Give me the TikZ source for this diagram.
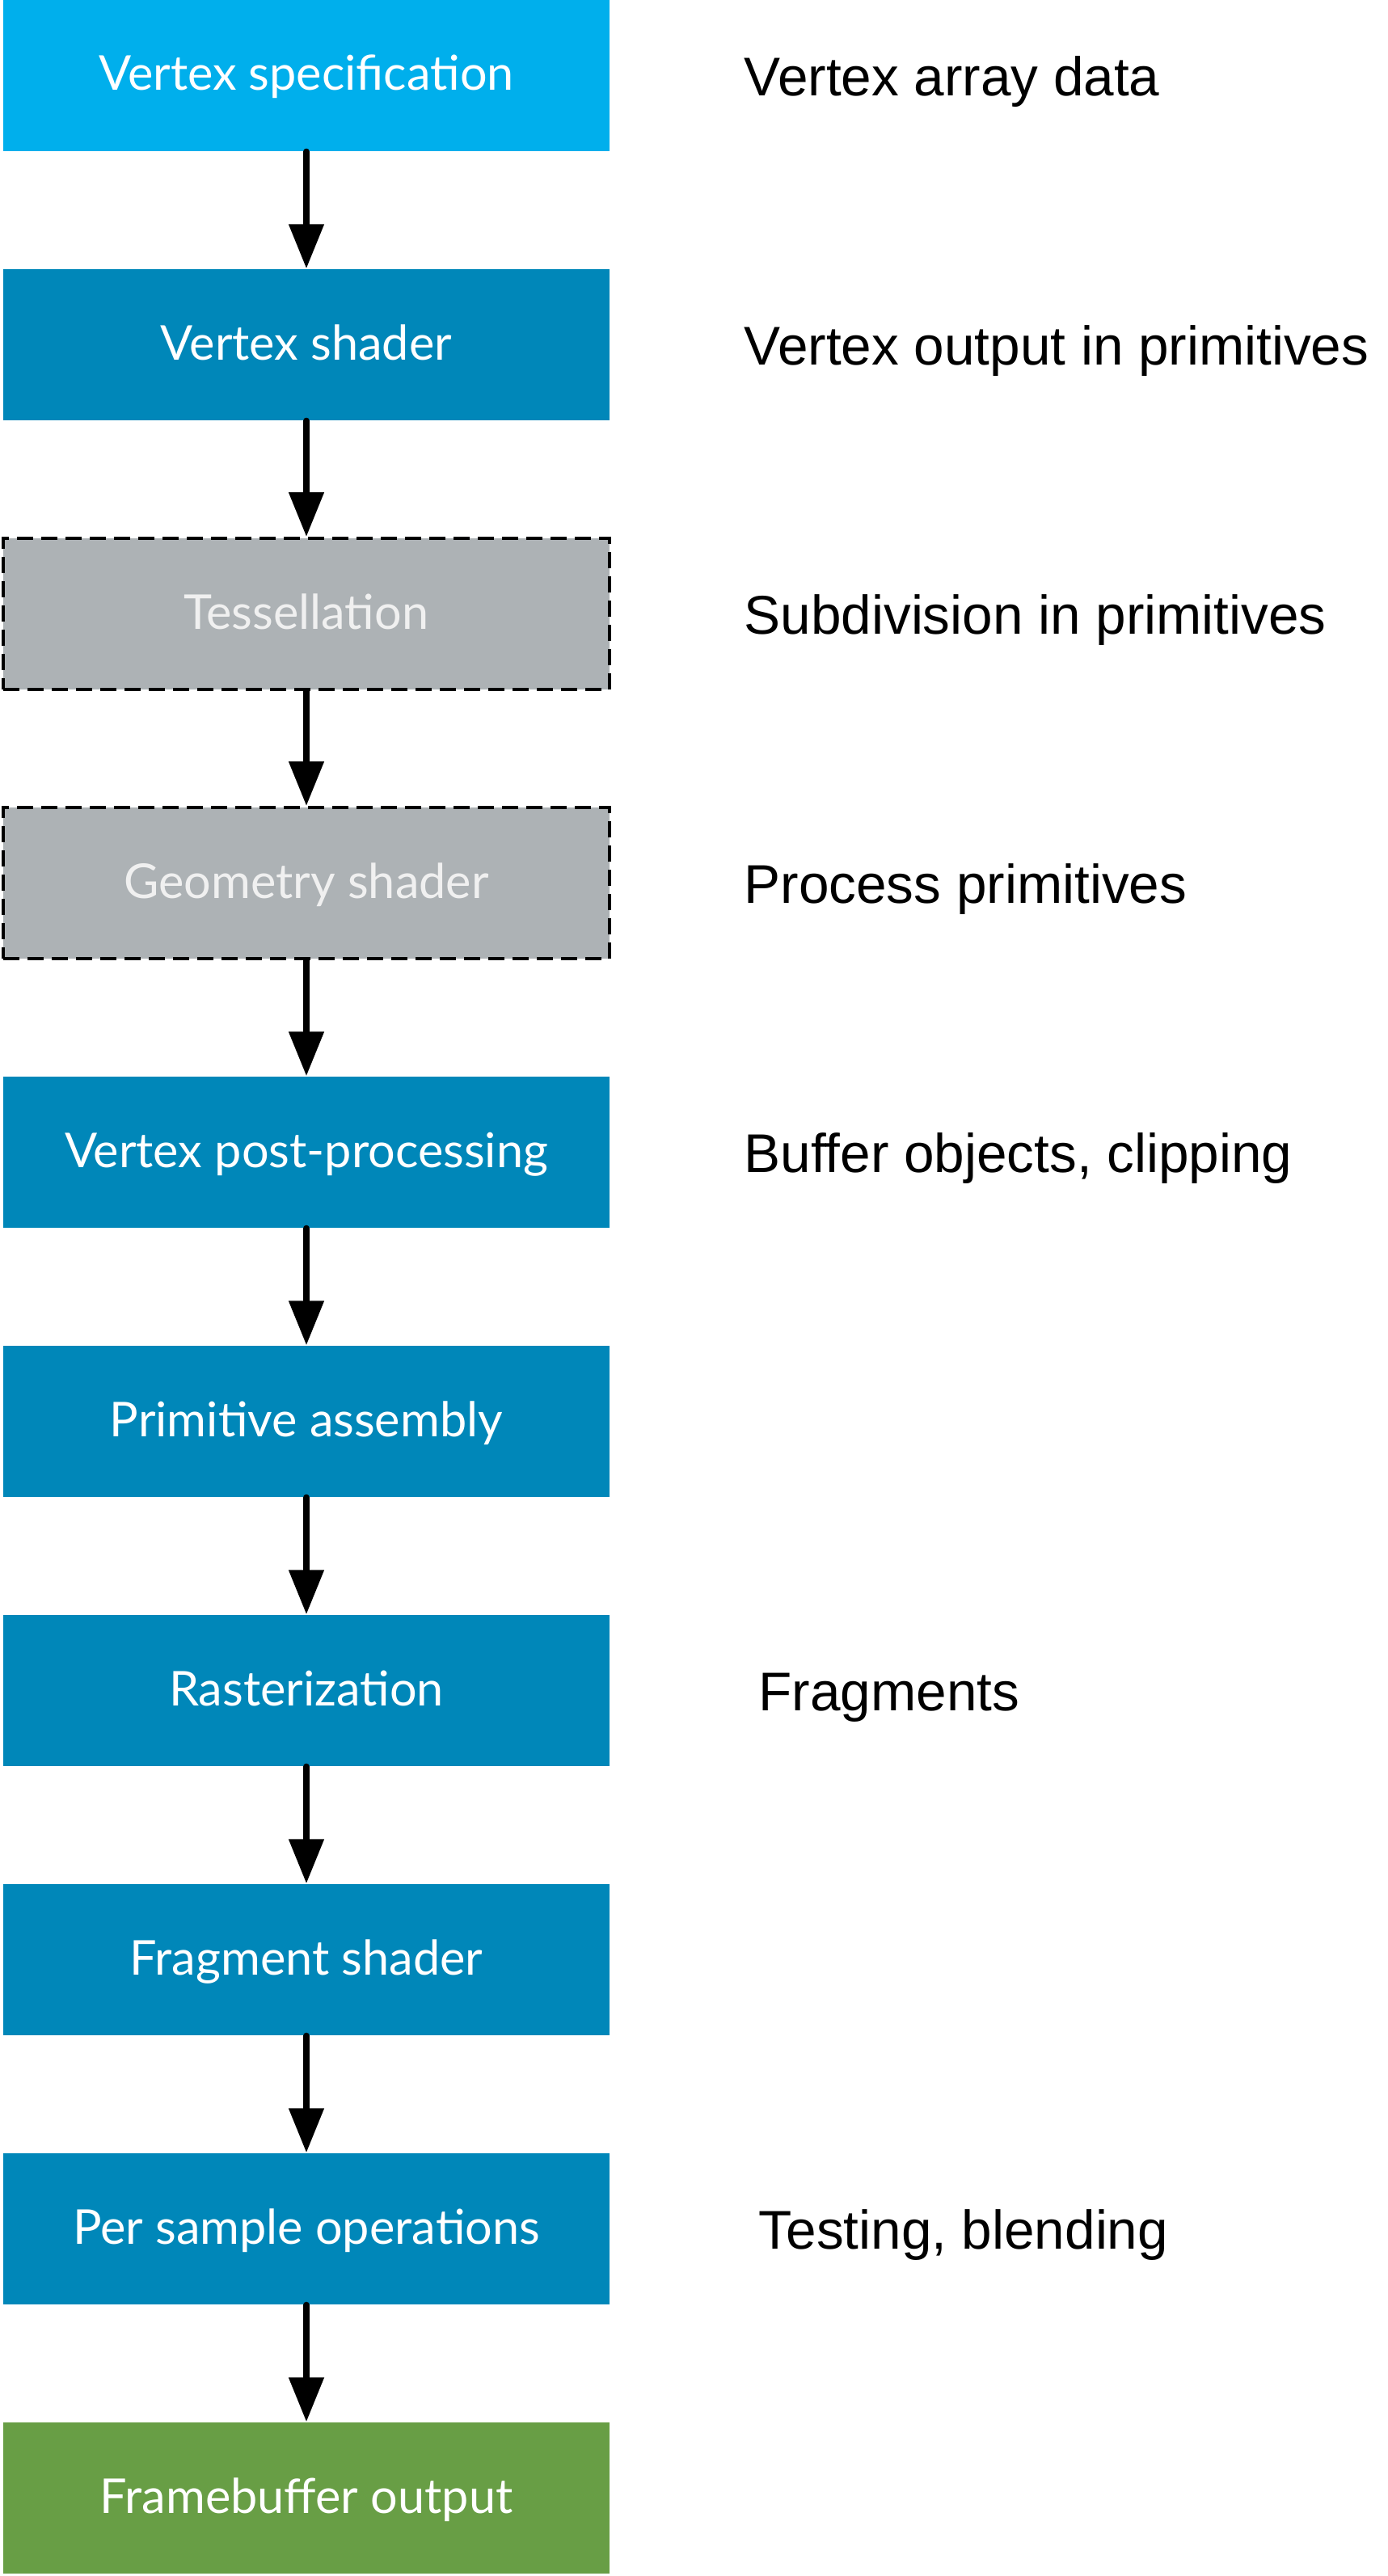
\documentclass[tikz,border=0pt]{standalone}
\usepackage{fontspec}
\setmainfont{Liberation Sans}
\newfontfamily\boxfont{Lato}
\usetikzlibrary{arrows.meta}
\definecolor{specblue}{RGB}{0,175,236}
\definecolor{stageblue}{RGB}{0,135,185}
\definecolor{optgray}{RGB}{173,178,181}
\definecolor{outgreen}{RGB}{104,158,69}

\begin{document}
\begin{tikzpicture}
      \tikzstyle{STY1} = [rectangle, fill=stageblue, minimum height=1.87cm, minimum width=7.5cm, inner sep=0pt, text height=0.37cm, text depth=0pt, text=white, font=\boxfont\fontsize{16.9}{20}\selectfont]
      \tikzstyle{STY2} = [-{Triangle[length=0.55cm, width=0.42cm]}, line width=0.08cm, line cap=round]
      \tikzstyle{STY3} = [STY1, fill=optgray, draw=black, line width=0.04cm, dash pattern=on 0.2cm off 0.1cm, text=white!94!black]
      \tikzstyle{STY4} = [anchor=base west, inner sep=0pt, font=\fontsize{19.2}{22}\selectfont]

      \useasboundingbox (0,0) rectangle (17.16,-31.87);

      %%%%% VERTEX

      \node[STY1, fill=specblue](v1) at (3.79, {-(3.33*0 + 0.935)}) {Vertex specification};
      \node[STY1](v2) at (3.79, {-(3.33*1 + 0.935)}) {Vertex shader};
      \node[STY3](v3) at (3.79, {-(3.33*2 + 0.935)}) {Tessellation};
      \node[STY3](v4) at (3.79, {-(3.33*3 + 0.935)}) {Geometry shader};
      \node[STY1](v5) at (3.79, {-(3.33*4 + 0.935)}) {Vertex post-processing};
      \node[STY1](v6) at (3.79, {-(3.33*5 + 0.935)}) {Primitive assembly};
      \node[STY1](v7) at (3.79, {-(3.33*6 + 0.935)}) {Rasterization};
      \node[STY1](v8) at (3.79, {-(3.33*7 + 0.935)}) {Fragment shader};
      \node[STY1](v9) at (3.79, {-(3.33*8 + 0.935)}) {Per sample operations};
      \node[STY1, fill=outgreen](v10) at (3.79, {-(3.33*9 + 0.935)}) {Framebuffer output};

      %%%%% TEXTS

      \node[STY4](t1) at (9.20, {-(3.33*0 + 0.935) - 0.25}) {Vertex array data};
      \node[STY4](t2) at (9.20, {-(3.33*1 + 0.935) - 0.25}) {Vertex output in primitives};
      \node[STY4](t3) at (9.20, {-(3.33*2 + 0.935) - 0.25}) {Subdivision in primitives};
      \node[STY4](t4) at (9.20, {-(3.33*3 + 0.935) - 0.25}) {Process primitives};
      \node[STY4](t5) at (9.20, {-(3.33*4 + 0.935) - 0.25}) {Buffer objects, clipping};
      \node[STY4](t7) at (9.38, {-(3.33*6 + 0.935) - 0.25}) {Fragments};
      \node[STY4](t9) at (9.38, {-(3.33*8 + 0.935) - 0.25}) {Testing, blending};

      %%%%% EDGES

      \draw[STY2]  (v1) edge (v2);
      \draw[STY2]  (v2) edge (v3);
      \draw[STY2]  (v3) edge (v4);
      \draw[STY2]  (v4) edge (v5);
      \draw[STY2]  (v5) edge (v6);
      \draw[STY2]  (v6) edge (v7);
      \draw[STY2]  (v7) edge (v8);
      \draw[STY2]  (v8) edge (v9);
      \draw[STY2]  (v9) edge (v10);
    \end{tikzpicture}
\end{document}
